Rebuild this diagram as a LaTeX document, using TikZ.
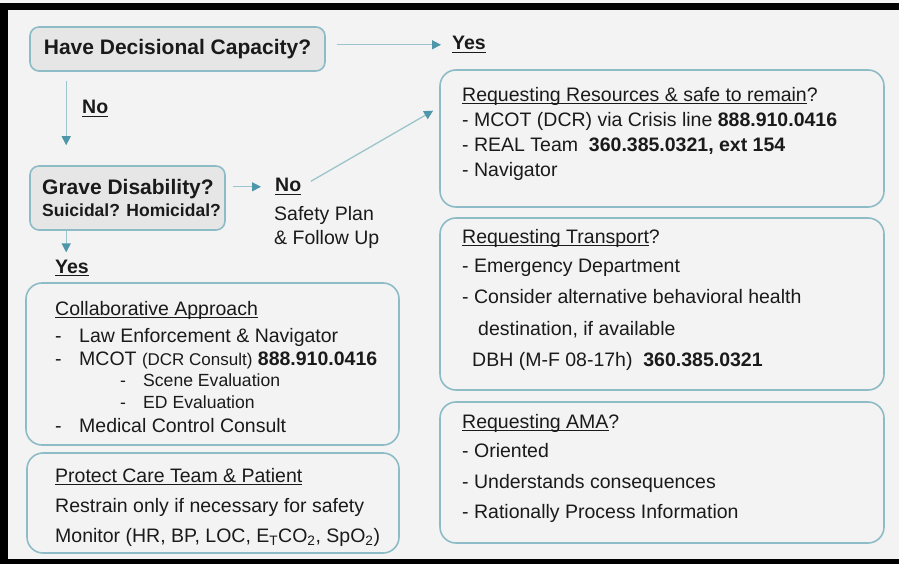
\documentclass[tikz,border=0pt]{standalone}
\usepackage{fontspec}
\setmainfont{Liberation Sans}
\usetikzlibrary{arrows.meta,positioning}

\newcommand{\undl}[1]{\setbox0\hbox{#1}\rlap{\rule[-3pt]{\wd0}{1.1pt}}\box0}

\definecolor{pagebg}{HTML}{F3F3F3}
\definecolor{boxline}{HTML}{8DBBC6}
\definecolor{qfill}{HTML}{E6E6E6}
\definecolor{flowline}{HTML}{9CC4CD}
\definecolor{flowhead}{HTML}{4E96A9}
\definecolor{ink}{HTML}{1A1A1A}

\tikzset{
  question/.style={draw=boxline, fill=qfill, line width=1.6pt, rounded corners=9pt,
    inner sep=0pt, text=ink, font=\bfseries\fontsize{21pt}{22pt}\selectfont},
  panel/.style={draw=boxline, line width=1.6pt, rounded corners=16pt, inner sep=0pt},
  boxtext/.style={anchor=north west, inner sep=0pt, align=left, text=ink},
  answer/.style={anchor=base west, inner sep=0pt, text=ink,
    font=\bfseries\fontsize{19.5pt}{24pt}\selectfont},
  flow/.style={draw=flowline, line width=1.3pt,
    -{Triangle[length=9pt,width=9pt,color=flowhead]}}
}

\begin{document}
\begin{tikzpicture}[x=1pt, y=-1pt]

    \useasboundingbox (0,0) rectangle (899,564);
    \fill[pagebg] (0,0) rectangle (899,564);
    \fill[black] (0,3) rectangle (899,10);
    \fill[black] (0,3) rectangle (8,564);
    \fill[black] (0,559) rectangle (899,564);

    \node[question, minimum width=295pt, minimum height=44pt] (capacity) at (177.5,49)
        {Have Decisional Capacity?};
    \node[question, minimum width=195pt, minimum height=64pt, align=left] (grave) at (127.5,198)
        {\hspace*{8pt}Grave Disability?\\
         \hspace*{8pt}{\fontsize{17.5pt}{22pt}\selectfont Suicidal? Homicidal?}};

    \node[answer] (capyes) at (452,50) {\undl{Yes}};
    \node[answer] (capno) at (82,114) {\undl{No}};
    \node[answer] (graveno) at (275,192) {\undl{No}};
    \node[answer] (graveyes) at (55,273) {\undl{Yes}};
    \node[boxtext, font=\fontsize{19.5pt}{24pt}\selectfont] (safety) at (274,206)
        {Safety Plan\\\& Follow Up};

    \node[panel, minimum width=373pt, minimum height=162pt] (collab) at (212.5,364) {};
    \node[panel, minimum width=372pt, minimum height=100pt] (protect) at (213,503) {};
    \node[panel, minimum width=444pt, minimum height=137pt] (resbox) at (662,138.5) {};
    \node[panel, minimum width=444pt, minimum height=172pt] (transbox) at (662,304) {};
    \node[panel, minimum width=444pt, minimum height=141pt] (amabox) at (662,472.5) {};

    \node[boxtext, font=\fontsize{19.5pt}{22pt}\selectfont] (collabtxt) at (55,301)
        {\undl{Collaborative Approach}\\[5pt]
         \makebox[24pt][l]{-}Law Enforcement \& Navigator\\[1pt]
         \makebox[24pt][l]{-}MCOT {\fontsize{17pt}{22pt}\selectfont(DCR Consult)} \textbf{888.910.0416}\\[-1pt]
         \hspace*{65pt}{\fontsize{17.6pt}{22pt}\selectfont\makebox[23pt][l]{-}Scene Evaluation}\\
         \hspace*{65pt}{\fontsize{17.6pt}{22pt}\selectfont\makebox[23pt][l]{-}ED Evaluation}\\[2pt]
         \makebox[24pt][l]{-}Medical Control Consult};
    \node[boxtext, font=\fontsize{19.5pt}{30pt}\selectfont] (protecttxt) at (55,468)
        {\undl{Protect Care Team \& Patient}\\
         Restrain only if necessary for safety\\
         Monitor (HR, BP, LOC, E\textsubscript{T}CO\textsubscript{2}, SpO\textsubscript{2})};
    \node[boxtext, font=\fontsize{19.5pt}{25pt}\selectfont] (restxt) at (462,87)
        {\undl{Requesting Resources \& safe to remain}?\\
         - MCOT (DCR) via Crisis line \textbf{888.910.0416}\\
         - REAL Team~ \textbf{360.385.0321, ext 154}\\
         - Navigator};
    \node[boxtext, font=\fontsize{19.5pt}{30pt}\selectfont] (transtxt) at (462,229)
        {\undl{Requesting Transport}?\\[-1pt]
         - Emergency Department\\[1pt]
         - Consider alternative behavioral health\\[2pt]
         \hspace*{16pt}destination, if available\\[1pt]
         \hspace*{10pt}DBH (M-F 08-17h)~ \textbf{360.385.0321}};
    \node[boxtext, font=\fontsize{19.5pt}{30pt}\selectfont] (amatxt) at (462,414)
        {\undl{Requesting AMA}?\\[-1pt]
         - Oriented\\[1pt]
         - Understands consequences\\
         - Rationally Process Information};

    \coordinate (nodrop) at ([xshift=37pt]capacity.south west);
    \coordinate (yesdrop) at ([xshift=37pt]grave.south west);

    \draw[flow, shorten <=11pt, shorten >=11pt] (capacity.east |- capyes.west) -- (capyes.west);
    \draw[flow, shorten <=9pt, shorten >=20pt] (nodrop) -- (nodrop |- grave.north);
    \draw[flow, shorten <=7pt, shorten >=14pt] (grave.east |- graveno.west) -- (graveno.west);
    \draw[flow, shorten <=11pt, shorten >=7pt] (graveno.east) -- (resbox.172.5);
    \draw[flow, shorten >=7pt] (yesdrop) -- (yesdrop |- graveyes.north);

\end{tikzpicture}
\end{document}
